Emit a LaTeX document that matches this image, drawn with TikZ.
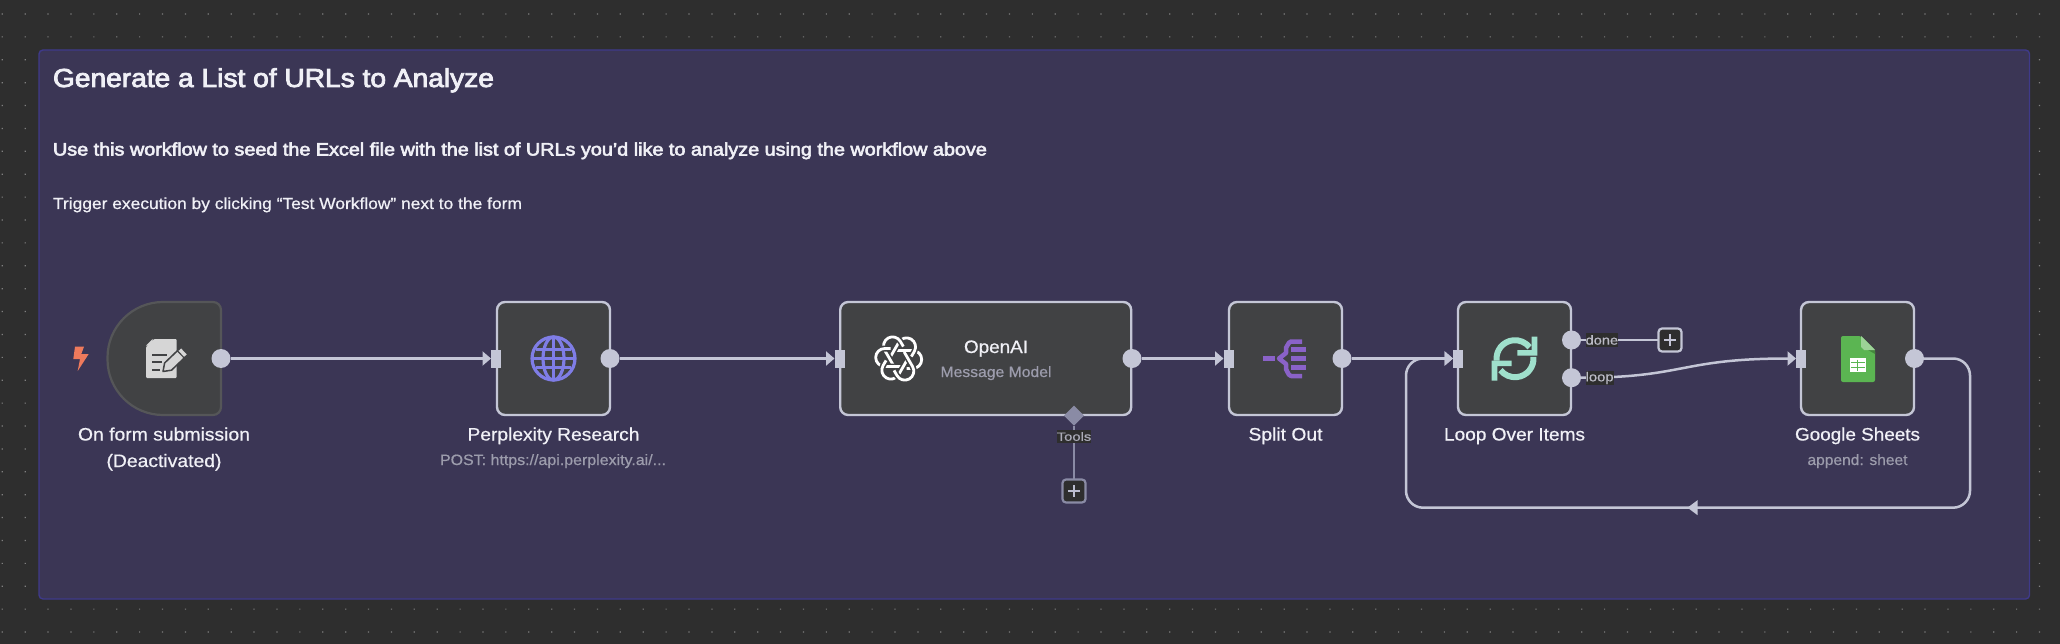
\documentclass[tikz,border=0pt]{standalone}
\usepackage{fontspec}
\usepackage{graphicx}
\usetikzlibrary{arrows.meta,shapes.geometric}
\setmainfont{Liberation Sans}[FakeBold=0.6]
\newfontfamily\fsemi{Liberation Sans}[FakeBold=3]
\newcommand\fitw[2]{\resizebox{#1pt}{\height}{#2}}
\definecolor{bgc}{HTML}{2E2E2E}
\definecolor{framec}{HTML}{3B3655}
\definecolor{frameb}{HTML}{3F3A8A}
\definecolor{nodec}{HTML}{414244}
\definecolor{trigb}{HTML}{555658}
\definecolor{edgec}{HTML}{C4C6D6}
\definecolor{subc}{HTML}{9C9CAC}
\definecolor{txtc}{HTML}{F0F0F6}
\definecolor{toolc}{HTML}{8A8BA5}
\definecolor{globec}{HTML}{7F7DE6}
\definecolor{splitc}{HTML}{8A62C8}
\definecolor{loopc}{HTML}{9FE0CC}
\definecolor{sheetc}{HTML}{5BB552}
\definecolor{formc}{HTML}{D6D6D6}
\definecolor{boltc}{HTML}{EE7A5C}
\tikzset{
  wfnode/.style={draw=edgec,fill=nodec,line width=2.4pt,rounded corners=8pt,inner sep=0pt,outer sep=0pt,minimum height=113pt},
  outh/.style={circle,fill=edgec,draw=none,inner sep=0pt,outer sep=0pt,minimum size=19pt},
  inh/.style={rectangle,fill=edgec,draw=none,inner sep=0pt,outer sep=0pt,minimum width=10pt,minimum height=18pt},
  conn/.style={draw=edgec,line width=2.5pt},
  connarrow/.style={conn,-{Triangle[length=8.5pt,width=14pt]}},
  title/.style={text=txtc,inner sep=0pt,outer sep=0pt,anchor=base,font=\fontsize{18}{22}\selectfont},
  subt/.style={text=subc,inner sep=0pt,outer sep=0pt,anchor=base,font=\fontsize{15}{18}\selectfont},
  head/.style={text=txtc,inner sep=0pt,outer sep=0pt,anchor=base west},
  plusbox/.style={fill=bgc,line width=2.2pt,rounded corners=3.5pt,inner sep=0pt,outer sep=0pt,minimum size=23pt},
  portlab/.style={fill=bgc,text=subc!70!white,inner sep=0pt,outer sep=0pt,anchor=west,font=\fontsize{13}{14}\selectfont,minimum height=14pt},
}
\begin{document}
\begin{tikzpicture}[x=1pt,y=-1pt]
\useasboundingbox (0,0) rectangle (2060,644);
\fill[bgc] (0,0) rectangle (2060,644);
% dotted canvas
\fill[gray]
  \foreach \i in {0,...,89}{\foreach \j in {0,...,27}{
    ({2.3+22.89*\i-0.6},{14+22.89*\j-0.6}) rectangle ++(1.2,1.2)}};
% frame
\draw[draw=frameb,fill=framec,line width=1.4pt,rounded corners=4pt] (39,50) rectangle (2029.5,599);
\node[head,font=\fsemi\fontsize{26}{30}\selectfont] (ttl) at (53,87) {\fitw{441}{Generate a List of URLs to Analyze}};
\node[head,font=\fsemi\fontsize{18}{22}\selectfont] (sub1) at (53,155.5) {\fitw{934}{Use this workflow to seed the Excel file with the list of URLs you’d like to analyze using the workflow above}};
\node[head,font=\fontsize{16}{20}\selectfont] (sub2) at (53,209) {\fitw{469}{Trigger execution by clicking “Test Workflow” next to the form}};
% trigger node
\draw[draw=trigb,fill=nodec,line width=2.2pt]
  (221,310) arc[start angle=0,end angle=-90,radius=8] -- (163,302)
  arc[start angle=-90,end angle=-180,radius=55.5] -- (107.5,359.5)
  arc[start angle=180,end angle=90,radius=55.5] -- (213,415)
  arc[start angle=90,end angle=0,radius=8] -- cycle;
\coordinate (n1) at (164,358.5);
\fill[boltc] (75,346.7) -- (84,346.7) -- (81.3,354) -- (88.7,354) -- (77.7,371) -- (80,359) -- (73.3,359) -- cycle;
% form icon
\fill[formc,rounded corners=1pt] (154,339) -- (176.5,339) -- (176.5,378) -- (146,378) -- (146,347) -- cycle;
\fill[formc] (146,345.5) -- (152.5,339) -- (152.5,345.5) -- cycle;
\draw[nodec,line width=1.8pt] (152,355) -- (167,355) (152,362) -- (162,362) (152,370) -- (160,370);
\draw[fill=formc,draw=nodec,line width=1.5pt,line join=round] (163,371.5) -- (171.5,370.2) -- (188,354.4) -- (181.1,347.2) -- (164.6,363) -- cycle;
\draw[nodec,line width=1.2pt] (177.4,350.9) -- (184.3,358);
% work nodes
\node[wfnode,minimum width=113pt] (n2) at (553.5,358.5) {};
\node[wfnode,minimum width=291pt] (n3) at (985.7,358.5) {};
\node[wfnode,minimum width=113pt] (n4) at (1285.5,358.5) {};
\node[wfnode,minimum width=113pt] (n5) at (1514.5,358.5) {};
\node[wfnode,minimum width=113pt] (n6) at (1857.5,358.5) {};
% globe icon
\begin{scope}[globec,line width=3.2pt]
\draw (553.5,358.5) circle[radius=21.5];
\draw (553.5,358.5) ellipse[x radius=10.5,y radius=21.5];
\draw (553.5,337) -- (553.5,380);
\draw (532,358.5) -- (575,358.5) (536,349.5) -- (571,349.5) (536,367.5) -- (571,367.5);
\end{scope}
% model logo
\begin{scope}[shift={(898.7,358.5)},line width=2.8pt]
\foreach \a in {0,60,...,300}{
  \begin{scope}[rotate=\a]
  \draw[nodec,line width=6pt,rounded corners=9pt] (4,-8) -- (23,-8) -- (23,10) -- (9,10);
  \draw[white,rounded corners=9pt] (-3,-8) -- (23,-8) -- (23,10) -- (8,10);
  \end{scope}}
\end{scope}
% split icon
\begin{scope}[splitc,line width=4.5pt]
\draw (1263,358.5) -- (1275,358.5);
\draw[line join=round] (1302,341.5) -- (1291,341.5) to[out=180,in=-90] (1286,347) -- (1286,353) -- (1279,358.5) -- (1286,364) -- (1286,370) to[out=90,in=180] (1291,376) -- (1302,376);
\draw (1291,349.5) -- (1306,349.5) (1291,358.7) -- (1306,358.7) (1291,367.5) -- (1306,367.5);
\end{scope}
% loop icon
\begin{scope}[loopc,line width=6pt]
\draw (1515,358.7) ++(-186:18.5) arc[start angle=-186,end angle=-38,radius=18.5];
\draw (1515,358.7) ++(-6:18.5) arc[start angle=-6,end angle=142,radius=18.5];
\fill (1537.3,336.7) -- (1537.3,355.7) -- (1517.3,355.7) -- (1517.3,350.2) -- (1531.7,350.2) -- (1531.7,336.7) -- cycle;
\fill (1491.7,380.7) -- (1491.7,360.7) -- (1511.7,360.7) -- (1511.7,366.2) -- (1497.3,366.2) -- (1497.3,380.7) -- cycle;
\end{scope}
% sheet icon
\fill[sheetc,rounded corners=2pt] (1841,336) -- (1861,336) -- (1875,350) -- (1875,382) -- (1841,382) -- cycle;
\fill[sheetc!75!black] (1861,346) -- (1875,350.5) -- (1875,354) -- cycle;
\fill[sheetc!60!white] (1861,336) -- (1875,350) -- (1864,350) -- (1861,347) -- cycle;
\fill[white] (1849.5,358) rectangle (1866,372);
\draw[sheetc,line width=1pt] (1851,362.5) -- (1864.5,362.5) (1851,367) -- (1864.5,367) (1857.7,359.5) -- (1857.7,370.5);
% handles
\node[outh] (o1) at (221,358.5) {};
\node[inh] (i2) at (496,358.5) {};
\node[outh] (o2) at (610,358.5) {};
\node[inh] (i3) at (839.5,358.5) {};
\node[outh] (o3) at (1132,358.5) {};
\node[inh] (i4) at (1228.5,358.5) {};
\node[outh] (o4) at (1342,358.5) {};
\node[inh] (i5) at (1458,358.5) {};
\node[outh] (o5a) at (1571.5,340) {};
\node[outh] (o5b) at (1571.5,377.7) {};
\node[inh] (i6) at (1801,358.5) {};
\node[outh] (o6) at (1914.5,358.5) {};
\node[diamond,fill=toolc,inner sep=0pt,outer sep=0pt,minimum width=20pt,minimum height=20pt] (t3) at (1074,415.7) {};
\node[plusbox,draw=toolc] (p3) at (1074,491) {};
\node[plusbox,draw=edgec] (p5) at (1670,340) {};
\draw[edgec!85!toolc,line width=2.4pt] (p3.center) ++(-6,0) -- ++(12,0) (p3.center) ++(0,-6) -- ++(0,12);
\draw[edgec,line width=2.4pt] (p5.center) ++(-6,0) -- ++(12,0) (p5.center) ++(0,-6) -- ++(0,12);
% connectors
\draw[connarrow] (o1.east) -- (i2.west);
\draw[connarrow] (o2.east) -- (i3.west);
\draw[connarrow] (o3.east) -- (i4.west);
\draw[connarrow] (o4.east) -- (i5.west);
\coordinate (c1) at (1970,358.5);
\coordinate (c2) at (1970,507.7);
\coordinate (c3) at (1406,507.7);
\coordinate (c4) at (1406,358.5);
\coordinate (cm) at (1687.5,507.7);
\draw[connarrow,rounded corners=17pt] (o6.east) -- (c1) -- (c2) -- (c3) -- (c4) -- (i5.west);
\fill[edgec] (cm) -- ++(10,-7.5) -- ++(0,15) -- cycle;
\draw[conn] (o5a.east) -- (p5.west);
\draw[connarrow] (o5b.east) .. controls (1685,377.7) and (1680,358.5) .. (i6.west);
\draw[toolc,line width=2.5pt] (t3.south) -- (p3.north);
% connector labels
\node[fill=bgc,text=subc!85!white,inner sep=0pt,outer sep=0pt,minimum height=13pt,font=\fontsize{12}{14}\selectfont] (lt) at (1074,436.5) {\fitw{34.5}{Tools}};
\node[portlab] (ld) at (1585.6,340) {\fitw{32.5}{done}};
\node[portlab] (ll) at (1585.6,378) {\fitw{28}{loop}};
% node labels
\node[title] (l1a) at (164,440.5) {\fitw{172}{On form submission}};
\node[title] (l1b) at (164,467) {\fitw{115}{(Deactivated)}};
\node[title] (l2) at (553.5,440.5) {\fitw{172}{Perplexity Research}};
\node[subt] (s2) at (553,465) {\fitw{226}{POST: https://api.perplexity.ai/...}};
\node[title] (l3) at (996,353) {\fitw{64}{OpenAI}};
\node[subt] (s3) at (996,377) {\fitw{111}{Message Model}};
\node[title] (l4) at (1285.5,440.5) {\fitw{74}{Split Out}};
\node[title] (l5) at (1514.5,440.5) {\fitw{141}{Loop Over Items}};
\node[title] (l6) at (1857.5,440.5) {\fitw{125}{Google Sheets}};
\node[subt] (s6) at (1857.5,465) {\fitw{100}{append: sheet}};
\end{tikzpicture}
\end{document}
